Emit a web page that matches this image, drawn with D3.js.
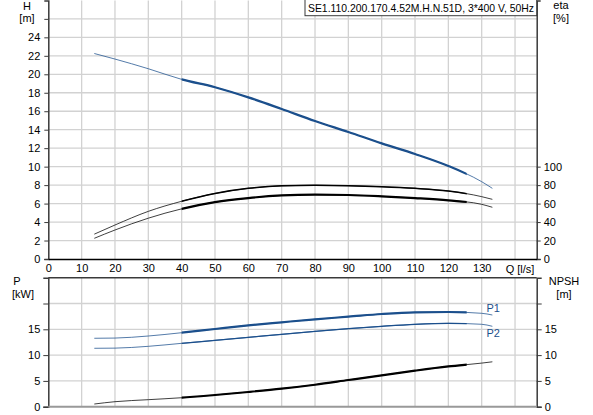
<!DOCTYPE html>
<html>
<head>
<meta charset="utf-8">
<script src="https://cdn.jsdelivr.net/npm/d3@7/dist/d3.min.js"></script>
<style>
  body { margin: 0; background: #fff; }
  svg { display: block; font-family: "Liberation Sans", Arial, sans-serif; }
  text { font-size: 11px; fill: #000; }
</style>
</head>
<body>
<svg id="chart" width="593" height="415"></svg>
<script>
// pump curve data
let flow = [13.8, 20, 30, 40, 50, 60, 70, 80, 90, 100, 110, 120, 130, 133.2];
let head = [22.25, 21.65, 20.6, 19.45, 18.6, 17.5, 16.24, 14.94, 13.75, 12.52, 11.37, 10.07, 8.37, 7.65];
let etaPump = [26.9, 36.8, 51.6, 62.5, 71.0, 76.5, 79.2, 79.8, 79.4, 78.3, 76.5, 73.6, 67.5, 64.6];
let etaTotal = [22.4, 31.4, 44.2, 54.3, 61.6, 66.0, 68.8, 69.7, 69.3, 67.9, 66.0, 63.5, 59.2, 56.0];
let powerP1 = [13.26, 13.3, 13.7, 14.34, 15.06, 15.77, 16.36, 16.94, 17.44, 17.96, 18.29, 18.35, 18.1, 17.77];
let powerP2 = [11.32, 11.35, 11.7, 12.28, 12.86, 13.44, 14.03, 14.6, 15.12, 15.58, 15.97, 16.16, 15.97, 15.58];
let npsh = [0.52, 0.97, 1.36, 1.74, 2.27, 2.85, 3.49, 4.26, 5.17, 6.08, 6.98, 7.8, 8.45, 8.7];

let qTicks = [0, 10, 20, 30, 40, 50, 60, 70, 80, 90, 100, 110, 120, 130];
let hTicks = [0, 2, 4, 6, 8, 10, 12, 14, 16, 18, 20, 22, 24];
let etaTicks = [0, 20, 40, 60, 80, 100];
let pTicks = [0, 5, 10, 15];
let title = "SE1.110.200.170.4.52M.H.N.51D, 3*400 V, 50Hz";

let svg = d3.select("#chart");
let blue = "#1b4f8c";
let gridColor = "#d2d2d2";
let axisColor = "#3a3a3a";

// Scales
let left = 48.3, right = 536.7;
let x = d3.scaleLinear().domain([0, 146.5]).range([left, right]);
let yH = d3.scaleLinear().domain([0, 28]).range([259, 0.4]);
let yEta = d3.scaleLinear().domain([0, 280]).range([259, 0.4]);
let yP = d3.scaleLinear().domain([0, 25]).range([406.7, 277.7]);

// clip for the bold (operating) part of each curve
let defs = svg.append("defs");
defs.append("clipPath").attr("id", "bold")
    .append("rect")
    .attr("x", x(40)).attr("y", 0)
    .attr("width", x(125.5) - x(40)).attr("height", 415);

function grid(yScale, yVals){
    let g = svg.append("g");
    g.selectAll(".vg").data(d3.range(10, 150, 10))
        .enter().append("line")
        .attr("x1", d => x(d)).attr("x2", d => x(d))
        .attr("y1", yScale.range()[0]).attr("y2", yScale.range()[1])
        .attr("stroke", gridColor).attr("stroke-width", 1.3);
    g.selectAll(".hg").data(yVals)
        .enter().append("line")
        .attr("x1", left).attr("x2", right)
        .attr("y1", d => yScale(d)).attr("y2", d => yScale(d))
        .attr("stroke", gridColor).attr("stroke-width", 1.3);
}

grid(yH, d3.range(2, 28, 2));
grid(yP, [5, 10, 15, 20]);

function curve(vals, yScale, color, thin, bold){
    let pts = flow.map((q, i) => [q, vals[i]]);
    let line = d3.line().x(d => x(d[0])).y(d => yScale(d[1])).curve(d3.curveMonotoneX);
    svg.append("path").datum(pts).attr("d", line)
        .attr("fill", "none").attr("stroke", color).attr("stroke-width", thin)
        .attr("stroke-opacity", 0.75);
    svg.append("path").datum(pts).attr("d", line)
        .attr("clip-path", "url(#bold)")
        .attr("fill", "none").attr("stroke", color).attr("stroke-width", bold);
}

curve(head, yH, blue, 1, 2.2);
curve(etaPump, yEta, "#000", 1, 1.5);
curve(etaTotal, yEta, "#000", 1, 2.2);
curve(powerP1, yP, blue, 1, 2.2);
curve(powerP2, yP, blue, 1, 1.3);
curve(npsh, yP, "#000", 1, 2.2);

// Axes: top plot
let leftAxis = d3.axisLeft(yH).tickValues(hTicks.concat([26])).tickSize(4)
    .tickFormat(d => d === 26 ? "" : d);
let gl = svg.append("g").attr("transform", "translate(" + left + ",0)").call(leftAxis);

let etaAxis = d3.axisRight(yEta).tickValues(etaTicks).tickSize(4);
let ge = svg.append("g").attr("transform", "translate(" + right + ",0)").call(etaAxis);

let qAxis = d3.axisBottom(x).tickValues(qTicks).tickSize(0).tickPadding(5);
let gq = svg.append("g").attr("transform", "translate(0," + yH(0) + ")").call(qAxis);

// Axes: bottom plot
let pAxis = d3.axisLeft(yP).tickValues(pTicks.concat([20])).tickSize(5)
    .tickFormat(d => d === 20 ? "" : d);
let gp = svg.append("g").attr("transform", "translate(" + left + ",0)").call(pAxis);

let nAxis = d3.axisRight(yP).tickValues(pTicks.concat([20])).tickSize(5)
    .tickFormat(d => d === 20 ? "" : d);
let gn = svg.append("g").attr("transform", "translate(" + right + ",0)").call(nAxis);

[gl, ge, gq, gp, gn].forEach(g => {
    g.selectAll("text").style("font-size", "11px").style("font-family", "Liberation Sans, Arial, sans-serif").attr("fill", "#000");
    g.selectAll("line").attr("stroke", axisColor);
    g.select(".domain").attr("stroke", axisColor).attr("stroke-width", 1.5);
});
gq.select(".domain").attr("stroke", "#000");
gl.selectAll("text").attr("x", -8);
gp.selectAll("text").attr("x", -8);

// box around the bottom plot
svg.append("line").attr("x1", left).attr("x2", right)
    .attr("y1", yP.range()[1]).attr("y2", yP.range()[1])
    .attr("stroke", axisColor).attr("stroke-width", 1.5);
svg.append("line").attr("x1", left).attr("x2", right)
    .attr("y1", yP(0)).attr("y2", yP(0))
    .attr("stroke", "#999").attr("stroke-width", 2);

// Q label replaces the 140 tick
svg.append("text").attr("x", x(140) + 5).attr("y", yH(0) + 14)
    .attr("text-anchor", "middle").text("Q [l/s]");

// Axis titles
let titles = [
    {t: "H", x: 27, y: 9.5}, {t: "[m]", x: 27, y: 21.5},
    {t: "eta", x: 561, y: 9}, {t: "[%]", x: 561, y: 21.5},
    {t: "P", x: 17, y: 285}, {t: "[kW]", x: 23, y: 297.5},
    {t: "NPSH", x: 564, y: 285}, {t: "[m]", x: 564, y: 297.5}
];
svg.selectAll(".ttl").data(titles).enter().append("text")
    .attr("x", d => d.x).attr("y", d => d.y)
    .attr("text-anchor", "middle").text(d => d.t);

// P1 / P2 labels
svg.append("text").attr("x", 486.5).attr("y", 312.3).style("fill", blue).text("P1");
svg.append("text").attr("x", 486.5).attr("y", 337.3).style("fill", blue).text("P2");

// Title box
svg.append("rect").attr("x", 305).attr("y", -1).attr("width", 231.7).attr("height", 16.7)
    .attr("fill", "#fff").attr("stroke", axisColor).attr("stroke-width", 1);
svg.append("text").attr("x", 308).attr("y", 12)
    .attr("textLength", 226).attr("lengthAdjust", "spacingAndGlyphs")
    .text(title);
</script>
</body>
</html>
